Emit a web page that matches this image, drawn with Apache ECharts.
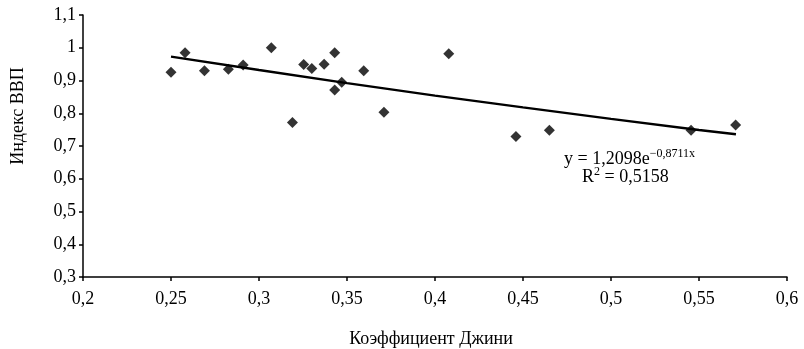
<!DOCTYPE html>
<html><head><meta charset="utf-8">
<script src="https://cdn.jsdelivr.net/npm/echarts@6/dist/echarts.min.js"></script>
<style>html,body{margin:0;padding:0;background:#fff}#c{width:804px;height:349px}</style>
</head><body><div id="c"></div>
<script>
const giniX = [0.25, 0.258, 0.269, 0.2826, 0.291, 0.307, 0.319, 0.3254, 0.330, 0.337, 0.343, 0.343, 0.347, 0.3595, 0.371, 0.4078, 0.446, 0.465, 0.5455, 0.5708];
const gdpIndex = [0.925, 0.985, 0.930, 0.934, 0.947, 1.0, 0.772, 0.949, 0.937, 0.950, 0.985, 0.871, 0.895, 0.930, 0.803, 0.982, 0.729, 0.748, 0.748, 0.7645];
const trendX = [0.25, 0.3, 0.35, 0.4, 0.45, 0.5, 0.55, 0.571];
const trendY = [0.973, 0.932, 0.892, 0.854, 0.818, 0.783, 0.749, 0.736];
const xTicks = ['0,2','0,25','0,3','0,35','0,4','0,45','0,5','0,55','0,6'];
const yTicks = ['0,3','0,4','0,5','0,6','0,7','0,8','0,9','1','1,1'];
const xTitle = 'Коэффициент Джини';
const yTitle = 'Индекс ВВП';

const font = '"Liberation Serif","Times New Roman",serif';
const chart = echarts.init(document.getElementById('c'));
const richStyle = {
  a: {fontFamily: font, fontSize: 18, fill: '#000', color: '#000', verticalAlign: 'bottom', lineHeight: 20},
  s: {fontFamily: font, fontSize: 12, fill: '#000', color: '#000', verticalAlign: 'top', lineHeight: 20, padding: [0,0,8,0]}
};
chart.setOption({
  animation: false,
  backgroundColor: '#fff',
  grid: {left: 83, right: 17, top: 15, bottom: 72},
  xAxis: {
    type: 'value', min: 0.2, max: 0.6, interval: 0.05,
    axisLine: {show: true, onZero: false, lineStyle: {color: '#000', width: 1.5}},
    axisTick: {show: true, length: 4, lineStyle: {color: '#000', width: 1.5}},
    splitLine: {show: false},
    axisLabel: {color: '#000', fontFamily: font, fontSize: 18, margin: 13,
      formatter: (v) => xTicks[Math.round((v - 0.2) / 0.05)]}
  },
  yAxis: {
    type: 'value', min: 0.3, max: 1.1, interval: 0.1,
    axisLine: {show: true, onZero: false, lineStyle: {color: '#000', width: 1.5}},
    axisTick: {show: true, length: 4, lineStyle: {color: '#000', width: 1.5}},
    splitLine: {show: false},
    axisLabel: {color: '#000', fontFamily: font, fontSize: 18, margin: 7,
      formatter: (v) => yTicks[Math.round((v - 0.3) / 0.1)]}
  },
  series: [
    {
      type: 'line', data: trendX.map((x, i) => [x, trendY[i]]),
      showSymbol: false, symbol: 'none', smooth: false,
      lineStyle: {color: '#000', width: 2.4}, z: 2
    },
    {
      type: 'scatter', data: giniX.map((x, i) => [x, gdpIndex[i]]),
      symbol: 'diamond', symbolSize: [11, 11],
      itemStyle: {color: '#000'}, z: 3
    }
  ],
  graphic: [
    {
      type: 'text', x: 18, y: 116, rotation: Math.PI / 2,
      style: {text: yTitle, font: '18px ' + font, fill: '#000', align: 'center', verticalAlign: 'middle'}
    },
    {
      type: 'text', x: 431, y: 339,
      style: {text: xTitle, font: '18px ' + font, fill: '#000', align: 'center', verticalAlign: 'middle'}
    },
    {
      type: 'text', x: 564, y: 148,
      style: {text: '{a|y = 1,2098e}{s|−0,8711x}', rich: richStyle}
    },
    {
      type: 'text', x: 582, y: 166,
      style: {text: '{a|R}{s|2}{a| = 0,5158}', rich: richStyle}
    }
  ]
});
</script></body></html>
